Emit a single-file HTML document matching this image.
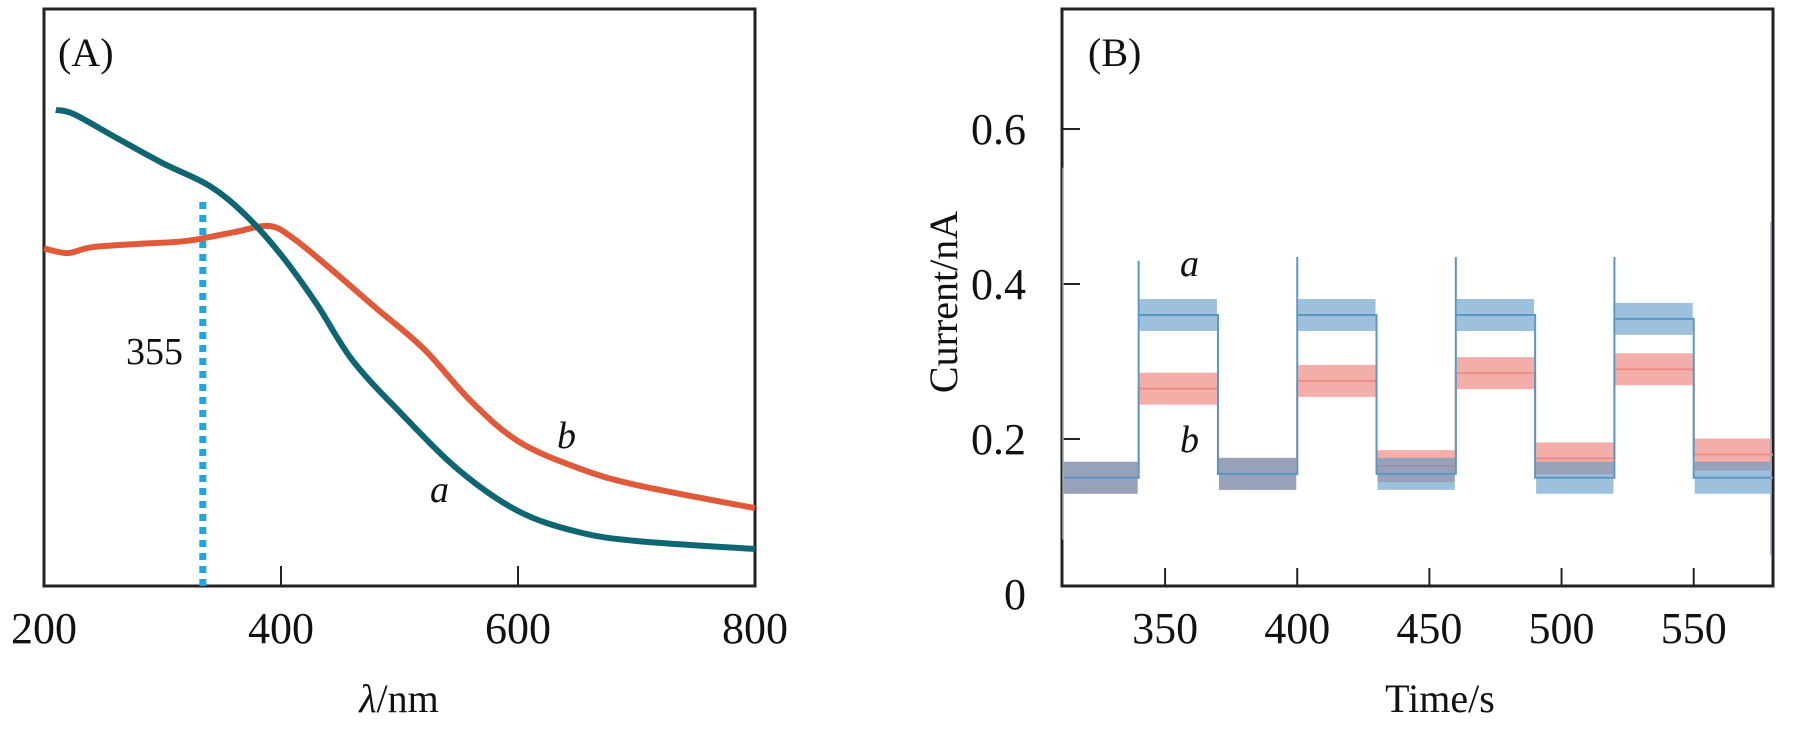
<!DOCTYPE html>
<html><head><meta charset="utf-8"><style>
body{margin:0;background:#fff;}
svg text{font-family:"Liberation Serif",serif;fill:#111;}
</style></head><body>
<svg id="chart" width="1811" height="724" viewBox="0 0 1811 724" xmlns="http://www.w3.org/2000/svg">
<g id="pa"></g>
<g id="pb"></g>
</svg>
<script>
// Panel A data
const aWavelength = [210,225,260,300,340,370,400,430,460,500,550,600,650,700,800];
const aAbs = [0.825,0.818,0.778,0.733,0.693,0.643,0.574,0.489,0.392,0.302,0.201,0.130,0.094,0.078,0.064];
const bWavelength = [200,220,240,280,320,360,390,410,440,480,520,560,600,650,700,800];
const bAbs = [0.585,0.577,0.587,0.593,0.598,0.613,0.624,0.603,0.553,0.482,0.412,0.321,0.251,0.205,0.175,0.135];
const aTicks = [200,400,600,800];
const markerWavelength = 334;
const markerTop = 0.675;
// Panel B data
const segStart = [311,340,370,400,430,460,490,520,550];
const segEnd =   [340,370,400,430,460,490,520,550,580];
const seriesA = [0.15,0.36,0.155,0.36,0.155,0.36,0.15,0.355,0.15];
const seriesB = [0.15,0.265,0.155,0.275,0.165,0.285,0.175,0.29,0.18];
const spikeTimes = [340,400,460,520];
const spikeVals = [0.43,0.435,0.435,0.435];
const bXTicks = [350,400,450,500,550];
const bYTicks = [0,0.2,0.4,0.6];
const bYLabels = ["0","0.2","0.4","0.6"];

const NS="http://www.w3.org/2000/svg";
function mk(parent,tag,attrs,text){const e=document.createElementNS(NS,tag);for(const k in attrs)e.setAttribute(k,attrs[k]);if(text!==undefined)e.textContent=text;parent.appendChild(e);return e;}
function smooth(p){let d='M'+p[0][0]+','+p[0][1];for(let i=0;i<p.length-1;i++){const p0=p[i-1]||p[i],p1=p[i],p2=p[i+1],p3=p[i+2]||p2;
 d+=' C'+(p1[0]+(p2[0]-p0[0])/6)+','+(p1[1]+(p2[1]-p0[1])/6)+' '+(p2[0]-(p3[0]-p1[0])/6)+','+(p2[1]-(p3[1]-p1[1])/6)+' '+p2[0]+','+p2[1];}return d;}

// Panel A
const A={l:44,r:755,t:9,b:586};
const ax=v=>A.l+(v-200)/600*(A.r-A.l);
const ay=v=>A.b-v*(A.b-A.t);
const pa=document.getElementById('pa');
let e;
e=mk(pa,'rect',{x:A.l,y:A.t,width:A.r-A.l,height:A.b-A.t,fill:'none',stroke:'#222','stroke-width':3});


aTicks.forEach(t=>{
  e=mk(pa,'line',{x1:ax(t),x2:ax(t),y1:A.b,y2:A.b-20,stroke:'#222','stroke-width':2});
  
  
  e=mk(pa,'text',{x:ax(t),y:643,'font-size':44,'text-anchor':'middle'},String(t));
  
  
});
e=mk(pa,'line',{x1:ax(markerWavelength),x2:ax(markerWavelength),y1:A.b,y2:ay(markerTop),stroke:'#1ea5e6','stroke-width':7,'stroke-dasharray':'7 6'});


e=mk(pa,'path',{d:smooth(bWavelength.map((w,i)=>[ax(w),ay(bAbs[i])])),fill:'none',stroke:'#e05a3a','stroke-width':6});


e=mk(pa,'path',{d:smooth(aWavelength.map((w,i)=>[ax(w),ay(aAbs[i])])),fill:'none',stroke:'#0e6673','stroke-width':6});


e=mk(pa,'text',{x:58,y:66,'font-size':40},'(A)');


e=mk(pa,'text',{x:126,y:364,'font-size':38},'355');


e=mk(pa,'text',{x:430,y:502,'font-size':38,'font-style':'italic'},'a');


e=mk(pa,'text',{x:557,y:448,'font-size':38,'font-style':'italic'},'b');


e=mk(pa,'text',{x:399,y:712,'font-size':40,'text-anchor':'middle'});


mk(e,'tspan',{'font-style':'italic'},'λ');mk(e,'tspan',{},'/nm');

// Panel B
const B={l:1062,r:1773,t:9,b:586};
const bx=t=>B.l+(t-311)/(580-311)*(B.r-B.l);
const by=v=>594-v*775;
const pb=document.getElementById('pb');
e=mk(pb,'rect',{x:B.l,y:B.t,width:B.r-B.l,height:B.b-B.t,fill:'none',stroke:'#222','stroke-width':3});


bXTicks.forEach(t=>{
  e=mk(pb,'line',{x1:bx(t),x2:bx(t),y1:B.b,y2:B.b-18,stroke:'#222','stroke-width':2});
  
  
  e=mk(pb,'text',{x:bx(t),y:643,'font-size':44,'text-anchor':'middle'},String(t));
  
  
});
bYTicks.forEach((v,i)=>{
  if(v>0){e=mk(pb,'line',{x1:B.l,x2:B.l+18,y1:by(v),y2:by(v),stroke:'#222','stroke-width':2});
  
  }
  e=mk(pb,'text',{x:1026,y:by(v)+15,'font-size':44,'text-anchor':'end'},bYLabels[i]);
  
  
});
function stepPts(vals,spikes){
  const pts=[];
  for(let i=0;i<segStart.length;i++){
    const s=spikes?spikeTimes.indexOf(segStart[i]):-1;
    if(s>=0)pts.push(bx(segStart[i])+','+by(spikeVals[s]));
    pts.push(bx(segStart[i])+','+by(vals[i]));
    pts.push(bx(segEnd[i])+','+by(vals[i]));
  }
  return pts.join(' ');
}
[['b',seriesB,'#ee8c86',false],['a',seriesA,'#5b97c4',true]].forEach(([n,vals,c,sp])=>{
  for(let i=0;i<segStart.length;i++){
    e=mk(pb,'rect',{x:bx(segStart[i])+1,width:bx(segEnd[i])-bx(segStart[i])-2,y:by(vals[i])-16,height:32,fill:c,'fill-opacity':n==='a'?0.6:0.7});
    
    
  }
  e=mk(pb,'polyline',{points:stepPts(vals,sp),fill:'none',stroke:c,'stroke-width':2});
  
  
});
e=mk(pb,'line',{x1:bx(311)+1,x2:bx(311)+1,y1:by(0.07),y2:by(0.55),stroke:'#9ab','stroke-width':1.5});


e=mk(pb,'line',{x1:bx(580)-2,x2:bx(580)-2,y1:by(0.05),y2:by(0.48),stroke:'#9ab','stroke-width':1.5});


e=mk(pb,'text',{x:1088,y:66,'font-size':40},'(B)');


e=mk(pb,'text',{x:1180,y:276,'font-size':38,'font-style':'italic'},'a');


e=mk(pb,'text',{x:1180,y:452,'font-size':38,'font-style':'italic'},'b');


e=mk(pb,'text',{x:0,y:0,'font-size':40,'text-anchor':'middle',transform:'translate(957,302) rotate(-90)'},'Current/nA');


e=mk(pb,'text',{x:1440,y:712,'font-size':40,'text-anchor':'middle'},'Time/s');


</script>
</body></html>
